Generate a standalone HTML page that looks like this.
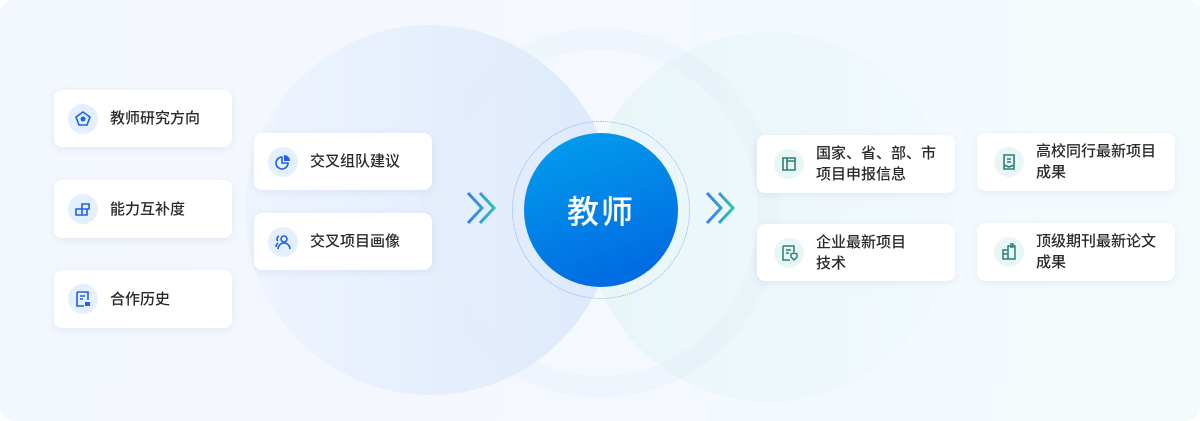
<!DOCTYPE html>
<html><head><meta charset="utf-8"><style>
*{margin:0;padding:0;box-sizing:border-box}
body{width:1200px;height:421px;overflow:hidden;background:#fff;font-family:"Liberation Sans","Noto Sans CJK SC",sans-serif;position:relative}
.bg{position:absolute;left:0;top:0;width:1200px;height:421px;border-radius:14px;background:linear-gradient(90deg,#f3f7fe,#f5f9fe 50%,#f3fbfc);overflow:hidden}
.c{position:absolute;border-radius:50%}
.card{position:absolute;background:#fff;border-radius:8px;box-shadow:0 2px 8px rgba(120,150,210,.15);display:flex;align-items:center;font-size:15px;color:#2a2a2a;line-height:21px;font-weight:500}
.ic{width:30px;height:30px;border-radius:50%;margin-left:14px;margin-right:12px;flex:none;display:flex;align-items:center;justify-content:center}
.b .ic{background:#e4efff}.g .ic{background:#e8f6f5}
.g .ic{margin-left:17px}
</style></head><body>
<div class="bg">
<div class="c" style="left:245px;top:25px;width:370px;height:370px;background:linear-gradient(90deg,rgba(225,236,253,.3),#dde9fc)"></div>
<div class="c" style="left:585px;top:32px;width:370px;height:370px;background:linear-gradient(90deg,#e8f6f8,rgba(236,248,250,.3))"></div>
<div class="c" style="left:420px;top:28px;width:360px;height:370px;border:22px solid rgba(225,235,250,.3)"></div>
</div>
<div class="c" style="left:512px;top:121px;width:178px;height:178px;border:1.5px dotted #8fb3f2"></div>
<div class="c" style="left:524px;top:133px;width:154px;height:154px;background:linear-gradient(160deg,#03a0ee,#0063e0);color:#fff;font-size:32px;font-weight:500;display:flex;align-items:center;justify-content:center;letter-spacing:2px">教师</div>
<svg style="position:absolute;left:465px;top:190px" width="36" height="36"><defs><linearGradient id="a"><stop offset="0" stop-color="#3a7df0"/><stop offset="1" stop-color="#2ec0b0"/></linearGradient></defs><path d="M3 3l14 15-14 15M15 3l14 15-14 15" fill="none" stroke="url(#a)" stroke-width="3"/></svg>
<svg style="position:absolute;left:704px;top:190px" width="36" height="36"><path d="M3 3l14 15-14 15M15 3l14 15-14 15" fill="none" stroke="url(#a)" stroke-width="3"/></svg>

<div class="card b" style="left:54px;top:90px;width:178px;height:57px"><div class="ic"><svg width="18" height="18"><path d="M9 2l7 5-3 8H5L2 7z" fill="none" stroke="#1d62e8" stroke-width="1.6"/><circle cx="9" cy="9" r="2.5" fill="#1d62e8"/></svg></div>教师研究方向</div>
<div class="card b" style="left:54px;top:180px;width:178px;height:58px"><div class="ic"><svg width="18" height="18"><path d="M2 9h6v6H2zM8 9h5v6H8zM8 4h7v5H8z" fill="none" stroke="#1d62e8" stroke-width="1.6"/></svg></div>能力互补度</div>
<div class="card b" style="left:54px;top:270px;width:178px;height:58px"><div class="ic"><svg width="18" height="18"><path d="M3 2h11v8M3 2v14h7M6 6h5M6 9h3" fill="none" stroke="#1d62e8" stroke-width="1.6"/><rect x="11" y="12" width="5" height="4" fill="#1d62e8"/></svg></div>合作历史</div>
<div class="card b" style="left:254px;top:133px;width:178px;height:57px"><div class="ic"><svg width="18" height="18"><path d="M8 4a6 6 0 1 0 6 6H8z" fill="none" stroke="#1d62e8" stroke-width="1.6"/><path d="M10 2v6h6a6 6 0 0 0-6-6z" fill="#1d62e8"/></svg></div>交叉组队建议</div>
<div class="card b" style="left:254px;top:213px;width:178px;height:57px"><div class="ic"><svg width="18" height="18"><circle cx="10" cy="6" r="3" fill="none" stroke="#1d62e8" stroke-width="1.6"/><path d="M4 16a6 6 0 0 1 12 0M5 3a3 3 0 0 0-1 5M2 14a5 5 0 0 1 2-4" fill="none" stroke="#1d62e8" stroke-width="1.6"/></svg></div>交叉项目画像</div>

<div class="card g" style="left:757px;top:135px;width:198px;height:58px"><div class="ic"><svg width="18" height="18"><path d="M3 3h12v12H3zM7 3v12M7 6h8" fill="none" stroke="#2a8077" stroke-width="1.6"/></svg></div>国家、省、部、市<br>项目申报信息</div>
<div class="card g" style="left:757px;top:224px;width:198px;height:57px"><div class="ic"><svg width="18" height="18"><path d="M3 2h11v6M3 2v14h7M6 6h5M6 9h3M11 10l3-1 3 1v3l-3 3-3-3z" fill="none" stroke="#2a8077" stroke-width="1.5"/></svg></div>企业最新项目<br>技术</div>
<div class="card g" style="left:977px;top:133px;width:198px;height:58px"><div class="ic"><svg width="18" height="18"><path d="M4 2h10v14H4zM7 6h4M7 9h4M4 12l5 2 5-2" fill="none" stroke="#2a8077" stroke-width="1.6"/></svg></div>高校同行最新项目<br>成果</div>
<div class="card g" style="left:977px;top:223px;width:198px;height:58px"><div class="ic"><svg width="18" height="18"><path d="M8 3h7v13H8zM3 7h5v9H3zM10 1h3v3h-3M3 11h5" fill="none" stroke="#2a8077" stroke-width="1.5"/></svg></div>顶级期刊最新论文<br>成果</div>
</body></html>
